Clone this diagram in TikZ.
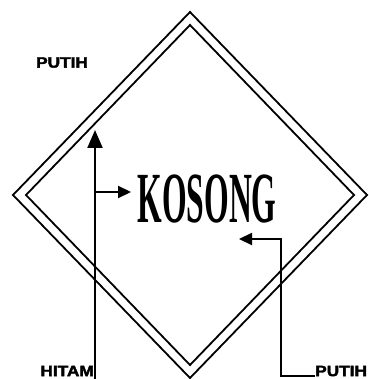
\documentclass[tikz,border=0pt]{standalone}
\usepackage{fontspec}
\setmainfont{Liberation Serif}
\newfontfamily\lblfont[FakeBold=2.5]{Liberation Sans}
\usetikzlibrary{arrows.meta}
\begin{document}
\begin{tikzpicture}[x=1pt,y=-1pt,
  dline/.style={line width=1.8pt, line join=miter},
  conn/.style={line width=2.2pt},
  tipA/.style={-{Triangle[length=18pt,width=15pt]}},
  tipB/.style={-{Triangle[length=13pt,width=12pt]}},
  lbl/.style={font=\lblfont\bfseries\fontsize{15}{15}\selectfont, xscale=1.15, inner sep=0pt}]
\useasboundingbox (0,0) rectangle (368,379);
% diamonds
\draw[dline] (190,12) -- (367,195) -- (190,378) -- (13,195) -- cycle;
\draw[dline] (190,25) -- (354,195) -- (190,365) -- (26,195) -- cycle;
% texts
\node[inner sep=0pt, xscale=0.44, font=\bfseries\fontsize{72}{72}\selectfont] (kosong) at (207,199) {KOSONG};
\node[lbl] (putihA) at (62,62.5) {PUTIH};
\node[lbl, anchor=east] (hitam) at (94,371) {HITAM};
\node[lbl, anchor=west] (putihB) at (315,371) {PUTIH};
% connectors
\coordinate (hbot) at (95,379);
\coordinate (htop) at (95,130);
\coordinate (hmid) at (95,192);
\coordinate (kw) at (131,192);
\coordinate (pcorner) at (281,376);
\coordinate (pup) at (281,239);
\coordinate (ptip) at (239,239);
\draw[conn, tipA] (hbot) -- (htop);
\draw[conn, tipB] (hmid) -- (kw);
\draw[conn, tipB] (putihB.west |- pcorner) -- (pcorner) -- (pup) -- (ptip);
\end{tikzpicture}
\end{document}
